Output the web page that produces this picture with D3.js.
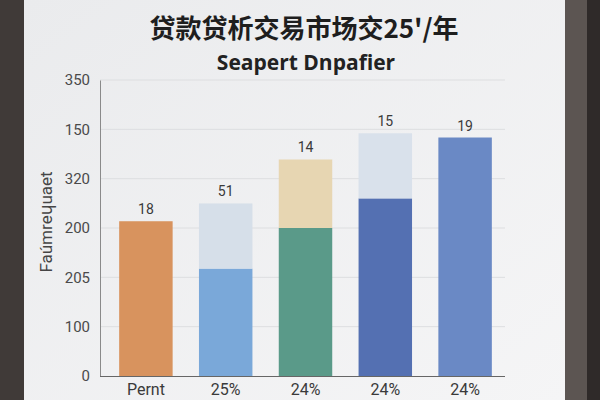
<!DOCTYPE html>
<html>
<head>
<meta charset="utf-8">
<script src="https://cdn.jsdelivr.net/npm/d3@7"></script>
<style>
  body { margin: 0; background: #3e3836; }
  svg { display: block; }
</style>
</head>
<body>
<svg id="chart" width="600" height="400"></svg>
<script>
"use strict";

// data
let categories = ["Pernt", "25%", "24%", "24%", "24%"];
let baseValues = [183, 127, 175, 210, 282];
let topValues = [0, 77, 81, 77, 0];
let valueLabels = ["18", "51", "14", "15", "19"];
let baseColors = ["#d8935e", "#7aa8d9", "#5a9a89", "#5470b2", "#6a89c5"];
let topColors = [null, "#d6dfe9", "#e7d6b2", "#d9e1eb", null];
let tickLabels = ["0", "100", "205", "200", "320", "150", "350"];

let svg = d3.select("#chart");

// screen + bezel
let grad = svg.append("defs").append("linearGradient").attr("id", "scr")
    .attr("x1", "0").attr("y1", "0").attr("x2", "1").attr("y2", "1");
grad.append("stop").attr("offset", "0").attr("stop-color", "#eaebed");
grad.append("stop").attr("offset", "1").attr("stop-color", "#f5f5f6");

svg.append("rect").attr("x", 0).attr("y", 0).attr("width", 600).attr("height", 400).attr("fill", "#2f2a29");
svg.append("rect").attr("x", 565).attr("y", 0).attr("width", 22).attr("height", 400).attr("fill", "#5c5552");
svg.append("rect").attr("x", 0).attr("y", 0).attr("width", 24).attr("height", 400).attr("fill", "#403a38");
svg.append("rect").attr("x", 24).attr("y", 0).attr("width", 541).attr("height", 400).attr("fill", "url(#scr)");

let margin = { top: 80, left: 100, right: 505, bottom: 376 };

let idx = d3.range(categories.length);

let x = d3.scaleBand().domain(idx)
    .range([106, 505]).paddingInner(0.33).paddingOuter(0.165);

let y = d3.scaleLinear().domain([0, 350]).range([margin.bottom, margin.top]);

let tickVals = tickLabels.map(function (t, i) { return i * 350 / (tickLabels.length - 1); });

// grid
svg.append("g").selectAll("line").data(tickVals.slice(1)).enter().append("line")
    .attr("x1", margin.left).attr("x2", margin.right)
    .attr("y1", function (d) { return y(d); }).attr("y2", function (d) { return y(d); })
    .attr("stroke", "#dddee0").attr("stroke-width", 1);

// y axis
let yAxis = svg.append("g").attr("transform", "translate(" + margin.left + ",0)")
    .call(d3.axisLeft(y).tickValues(tickVals).tickSize(0).tickPadding(10)
        .tickFormat(function (d, i) { return tickLabels[i]; }));
yAxis.select(".domain").attr("stroke", "#8a8a8a");
yAxis.selectAll("text").attr("font-family", "Roboto, 'Liberation Sans', sans-serif")
    .attr("font-size", 15).attr("fill", "#4a4a4a");

// bars
let bars = svg.append("g").selectAll("g").data(idx).enter().append("g");

bars.append("rect")
    .attr("x", function (i) { return x(i); })
    .attr("width", x.bandwidth())
    .attr("y", function (i) { return y(baseValues[i]); })
    .attr("height", function (i) { return y(0) - y(baseValues[i]); })
    .attr("fill", function (i) { return baseColors[i]; });

bars.filter(function (i) { return topValues[i] > 0; }).append("rect")
    .attr("x", function (i) { return x(i); })
    .attr("width", x.bandwidth())
    .attr("y", function (i) { return y(baseValues[i] + topValues[i]); })
    .attr("height", function (i) { return y(baseValues[i]) - y(baseValues[i] + topValues[i]); })
    .attr("fill", function (i) { return topColors[i]; });

bars.append("text")
    .attr("x", function (i) { return x(i) + x.bandwidth() / 2; })
    .attr("y", function (i) { return y(baseValues[i] + topValues[i]) - 7; })
    .attr("text-anchor", "middle")
    .attr("font-family", "Roboto, 'Liberation Sans', sans-serif")
    .attr("font-size", 14).attr("fill", "#3a3a3a")
    .text(function (i) { return valueLabels[i]; });

// x axis
let xAxis = svg.append("g").attr("transform", "translate(0," + margin.bottom + ")")
    .call(d3.axisBottom(x).tickSize(0).tickPadding(8).tickFormat(function (i) { return categories[i]; }));
xAxis.select(".domain").attr("stroke", "#666").attr("stroke-width", 1.2)
    .attr("d", "M" + margin.left + ",0.5H" + margin.right);
xAxis.selectAll("text").attr("font-family", "Roboto, 'Liberation Sans', sans-serif")
    .attr("font-size", 16).attr("fill", "#3a3a3a");

// y label
svg.append("text")
    .attr("transform", "translate(52,222) rotate(-90)")
    .attr("text-anchor", "middle")
    .attr("font-family", "Roboto, 'DejaVu Sans', sans-serif")
    .attr("font-size", 17).attr("fill", "#454545")
    .text("Faúmreɥuaet");

// titles
svg.append("text")
    .attr("x", 304).attr("y", 38)
    .attr("text-anchor", "middle")
    .attr("font-family", "'Noto Sans CJK SC', sans-serif")
    .attr("font-weight", "bold").attr("font-size", 26).attr("fill", "#1e1e1e")
    .text("贷款贷析交易市场交25'/年");

svg.append("text")
    .attr("x", 306).attr("y", 70)
    .attr("text-anchor", "middle")
    .attr("font-family", "'Open Sans', 'Noto Sans', sans-serif")
    .attr("font-weight", "bold").attr("font-size", 21).attr("fill", "#222")
    .text("Seapert Dnpafier");
</script>
</body>
</html>
